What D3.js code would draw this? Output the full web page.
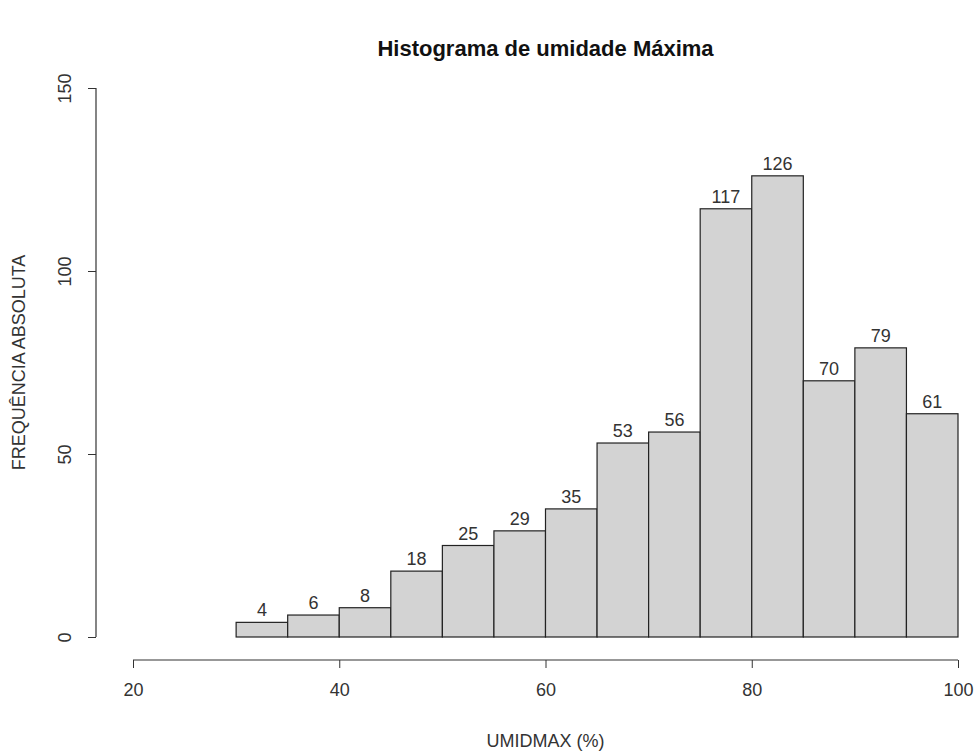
<!DOCTYPE html>
<html>
<head>
<meta charset="utf-8">
<script src="https://cdn.jsdelivr.net/npm/d3@7"></script>
<style>
body { margin: 0; background: #fff; }
text { font-family: "Liberation Sans", Arial, sans-serif; }
</style>
</head>
<body>
<svg id="chart"></svg>
<script>
var WIDTH = 979;
var HEIGHT = 755;

// bins (lower edge, upper edge) and counts
var binStart = [30, 35, 40, 45, 50, 55, 60, 65, 70, 75, 80, 85, 90, 95];
var binEnd = [35, 40, 45, 50, 55, 60, 65, 70, 75, 80, 85, 90, 95, 100];
var counts = [4, 6, 8, 18, 25, 29, 35, 53, 56, 117, 126, 70, 79, 61];
var xTicks = [20, 40, 60, 80, 100];
var yTicks = [0, 50, 100, 150];

var data = binStart.map(function(s, i) {
    return { x0: s, x1: binEnd[i], n: counts[i] };
});

var svg = d3.select("#chart")
    .attr("width", WIDTH)
    .attr("height", HEIGHT);

var x = d3.scaleLinear().domain([20, 100]).range([133, 958]);
var y = d3.scaleLinear().domain([0, 150]).range([637, 88]);

// bars
svg.selectAll("rect.bar")
    .data(data)
    .enter()
    .append("rect")
    .attr("class", "bar")
    .attr("x", function(d) { return x(d.x0); })
    .attr("y", function(d) { return y(d.n); })
    .attr("width", function(d) { return x(d.x1) - x(d.x0); })
    .attr("height", function(d) { return y(0) - y(d.n); })
    .attr("fill", "#d3d3d3")
    .attr("stroke", "#222")
    .attr("stroke-width", 1.2);

// count labels
svg.selectAll("text.count")
    .data(data)
    .enter()
    .append("text")
    .attr("class", "count")
    .attr("x", function(d) { return (x(d.x0) + x(d.x1)) / 2; })
    .attr("y", function(d) { return y(d.n) - 6; })
    .attr("text-anchor", "middle")
    .attr("font-size", 18)
    .attr("fill", "#333")
    .text(function(d) { return d.n; });

// x axis
var xAxis = svg.append("g")
    .attr("transform", "translate(0,660)")
    .call(d3.axisBottom(x).tickValues(xTicks).tickSize(8).tickPadding(15).tickFormat(d3.format("d")));
xAxis.select(".domain").attr("stroke", "#333").attr("stroke-width", 1.2)
    .attr("d", "M" + x(20) + ",0H" + x(100));
xAxis.selectAll(".tick line").attr("stroke", "#333");
xAxis.selectAll(".tick text")
    .attr("font-size", 18)
    .attr("fill", "#333")
    .style("font-family", "'Liberation Sans', Arial, sans-serif");

// y axis
var yAxis = svg.append("g")
    .attr("transform", "translate(96,0)")
    .call(d3.axisLeft(y).tickValues(yTicks).tickSize(8).tickPadding(0).tickFormat(d3.format("d")));
yAxis.select(".domain").attr("stroke", "#333").attr("stroke-width", 1.2)
    .attr("d", "M0," + y(0) + "V" + y(150));
yAxis.selectAll(".tick line").attr("stroke", "#333");
yAxis.selectAll(".tick text")
    .attr("font-size", 18)
    .attr("fill", "#333")
    .style("font-family", "'Liberation Sans', Arial, sans-serif")
    .attr("text-anchor", "middle")
    .attr("x", 0)
    .attr("y", 0)
    .attr("dy", "0.35em")
    .attr("transform", "translate(-31,0) rotate(-90)");

// title
svg.append("text")
    .attr("x", (x(20) + x(100)) / 2)
    .attr("y", 56)
    .attr("text-anchor", "middle")
    .attr("font-size", 22)
    .attr("font-weight", "bold")
    .attr("fill", "#111")
    .text("Histograma de umidade Máxima");

// x label
svg.append("text")
    .attr("x", (x(20) + x(100)) / 2)
    .attr("y", 747)
    .attr("text-anchor", "middle")
    .attr("font-size", 18)
    .attr("fill", "#333")
    .text("UMIDMAX (%)");

// y label
svg.append("text")
    .attr("transform", "translate(25," + ((y(0) + y(150)) / 2) + ") rotate(-90)")
    .attr("text-anchor", "middle")
    .attr("font-size", 18)
    .attr("fill", "#333")
    .text("FREQUÊNCIA ABSOLUTA");
</script>
</body>
</html>
